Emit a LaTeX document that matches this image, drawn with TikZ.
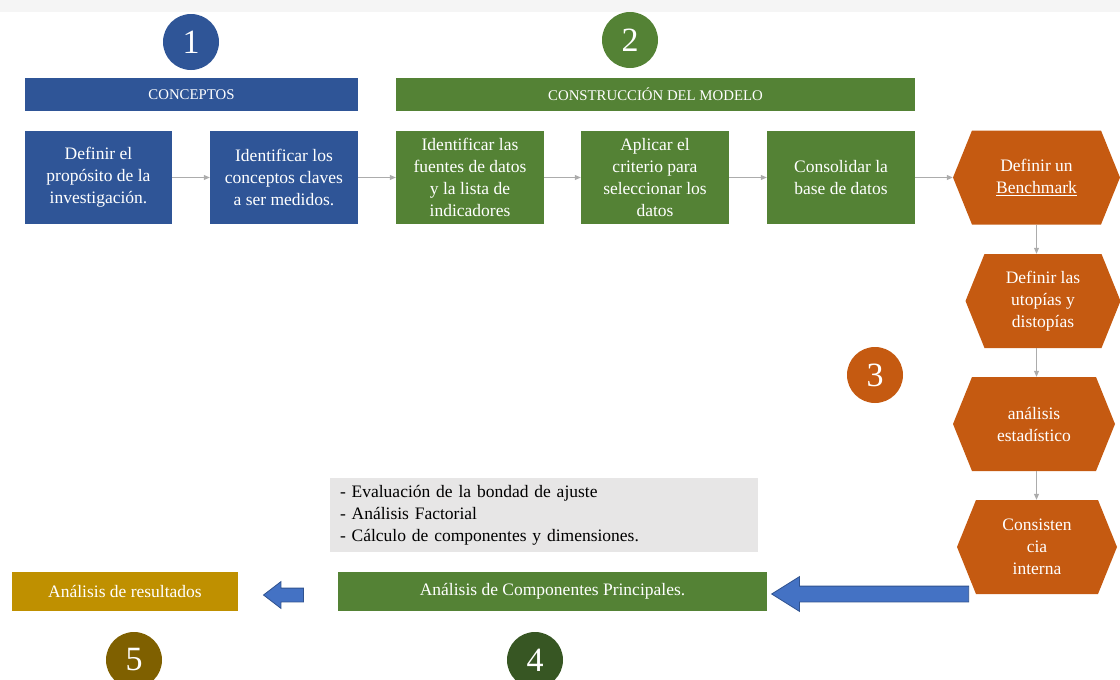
\documentclass[tikz,border=0pt]{standalone}
\usepackage{fontspec}
\setmainfont{Liberation Serif}
\usetikzlibrary{arrows.meta, shapes.symbols, shapes.arrows}

\definecolor{azul}{HTML}{2F5597}
\definecolor{verde}{HTML}{548235}
\definecolor{naranja}{HTML}{C55A11}
\definecolor{oro}{HTML}{BF9000}
\definecolor{cafe}{HTML}{7F6000}
\definecolor{verdeosc}{HTML}{375623}
\definecolor{grisclaro}{HTML}{E7E6E6}
\definecolor{flecha}{HTML}{4472C4}
\definecolor{flechaborde}{HTML}{2F528F}

\begin{document}
\begin{tikzpicture}[x=1pt,y=-1pt]
    \tikzstyle{caja}=[text=white,align=center,inner sep=0pt,minimum height=93pt,
        font=\fontsize{17.5}{22}\selectfont]
    \tikzstyle{titulo}=[text=white,inner sep=0pt,minimum height=33pt,
        font=\fontsize{14.8}{16}\selectfont]
    \tikzstyle{hexa}=[caja,fill=naranja,shape=signal,signal to=west and east,
        signal pointer angle=136,minimum height=94pt]
    \tikzstyle{numero}=[circle,text=white,minimum size=56pt,inner sep=0pt,
        font=\fontsize{34}{34}\selectfont]
    \tikzstyle{franja}=[text=white,inner sep=0pt,minimum height=39pt,
        font=\fontsize{17.5}{22}\selectfont]
    \tikzstyle{flechazul}=[single arrow,fill=flecha,draw=flechaborde,line width=0.8pt,
        shape border rotate=180,inner sep=0pt]
    \tikzstyle{edge}=[draw,line width=0.8pt,color=gray!65,-{Triangle[length=6pt,width=5pt]}]

    \useasboundingbox (0,0) rectangle (1120,680);
    \fill[gray!8] (0,0) rectangle (1120,12);

    % etapa 1
    \node[numero, fill=azul] (n1) at (191,42) {1};
    \node[titulo, fill=azul, minimum width=333pt] (t1) at (191.5,94.5) {CONCEPTOS};
    \node[caja, fill=azul, minimum width=147pt] (b1) at (98.5,177.5)
        {Definir el\\propósito de la\\investigación.};
    \node[caja, fill=azul, minimum width=148pt] (b2) at (284,177.5)
        {Identificar los\\conceptos claves\\a ser medidos.};

    % etapa 2
    \node[numero, fill=verde] (n2) at (630,40) {2};
    \node[titulo, fill=verde, minimum width=519pt] (t2) at (655.5,94.5) {CONSTRUCCIÓN DEL MODELO};
    \node[caja, fill=verde, minimum width=148pt] (b3) at (470,177.5)
        {Identificar las\\fuentes de datos\\y la lista de\\indicadores};
    \node[caja, fill=verde, minimum width=148pt] (b4) at (655,177.5)
        {Aplicar el\\criterio para\\seleccionar los\\datos};
    \node[caja, fill=verde, minimum width=148pt] (b5) at (841,177.5)
        {Consolidar la\\base de datos};

    % etapa 3
    \node[hexa, minimum width=167pt] (h1) at (1036.5,177.5) {Definir un\\\underline{Benchmark}};
    \node[hexa, minimum width=155pt] (h2) at (1043,301) {Definir las\\utopías y\\distopías};
    \node[hexa, minimum width=162pt] (h3) at (1034,424) {análisis\\estadístico};
    \node[hexa, minimum width=160pt] (h4) at (1037,547) {Consisten\\cia\\interna};
    \node[numero, fill=naranja] (n3) at (875,375) {3};

    \path[edge] (b1) -- (b2);
    \path[edge] (b2) -- (b3);
    \path[edge] (b3) -- (b4);
    \path[edge] (b4) -- (b5);
    \path[edge] (b5) -- (h1);
    \path[edge] (h1.south) -- (h1.south |- h2.north);
    \path[edge] (h2.south -| h1.south) -- (h1.south |- h3.north);
    \path[edge] (h3.south -| h1.south) -- (h1.south |- h4.north);

    % etapa 4
    \node[fill=grisclaro, minimum width=428pt, minimum height=74pt, inner sep=0pt,
        text width=408pt, align=left, font=\fontsize{17.5}{22}\selectfont] (lista) at (544,515)
        {- Evaluación de la bondad de ajuste\\- Análisis Factorial\\- Cálculo de componentes y dimensiones.};
    \node[franja, fill=verde, minimum width=429pt] (acp) at (552.5,591.5) {Análisis de Componentes Principales.};
    \node[numero, fill=verdeosc] (n4) at (535,660) {4};
    \node[flechazul, minimum height=197pt, inner ysep=7.5pt, single arrow head extend=9.5pt,
        single arrow tip angle=64] (f1) at (876.5,594) {};

    % etapa 5
    \node[franja, fill=oro, minimum width=226pt] (res) at (125,591.5) {Análisis de resultados};
    \node[numero, fill=cafe] (n5) at (134,660) {5};
    \node[flechazul, minimum height=40pt, inner ysep=6.5pt, single arrow head extend=6.5pt,
        single arrow tip angle=75] (f2) at (288,595) {};

\end{tikzpicture}
\end{document}
